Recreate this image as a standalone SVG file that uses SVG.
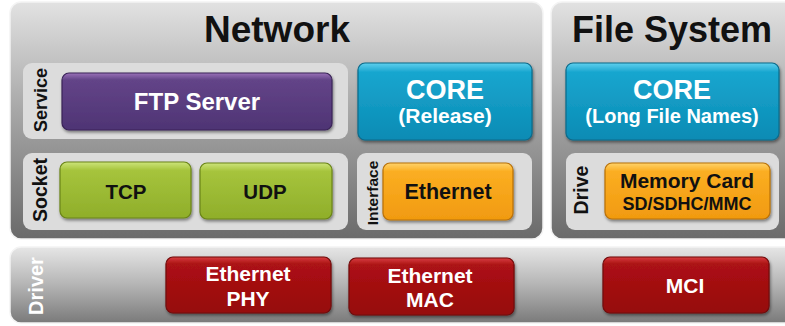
<svg xmlns="http://www.w3.org/2000/svg" width="785" height="326" viewBox="0 0 785 326">
<defs>
<linearGradient id="panel" x1="0" y1="0" x2="0" y2="1">
<stop offset="0" stop-color="#e2e2e2"/><stop offset="0.45" stop-color="#a8a8a8"/><stop offset="1" stop-color="#6a6a6a"/>
</linearGradient>
<linearGradient id="drv" x1="0" y1="0" x2="0" y2="1">
<stop offset="0" stop-color="#e6e6e6"/><stop offset="0.5" stop-color="#b4b4b4"/><stop offset="1" stop-color="#7a7a7a"/>
</linearGradient>
<linearGradient id="purple" x1="0" y1="0" x2="0" y2="1">
<stop offset="0" stop-color="#9a72b8"/><stop offset="0.12" stop-color="#634488"/><stop offset="1" stop-color="#4e3474"/>
</linearGradient>
<linearGradient id="cyan" x1="0" y1="0" x2="0" y2="1">
<stop offset="0" stop-color="#5fd0ee"/><stop offset="0.12" stop-color="#19a6cf"/><stop offset="1" stop-color="#0a8bb4"/>
</linearGradient>
<linearGradient id="green" x1="0" y1="0" x2="0" y2="1">
<stop offset="0" stop-color="#cde47a"/><stop offset="0.15" stop-color="#a6c43c"/><stop offset="1" stop-color="#8fae2a"/>
</linearGradient>
<linearGradient id="orange" x1="0" y1="0" x2="0" y2="1">
<stop offset="0" stop-color="#ffd36a"/><stop offset="0.15" stop-color="#fbae22"/><stop offset="1" stop-color="#f19a10"/>
</linearGradient>
<linearGradient id="red" x1="0" y1="0" x2="0" y2="1">
<stop offset="0" stop-color="#d84040"/><stop offset="0.12" stop-color="#ac1214"/><stop offset="1" stop-color="#960a0c"/>
</linearGradient>
<filter id="sh" x="-10%" y="-10%" width="120%" height="130%">
<feDropShadow dx="1" dy="2" stdDeviation="1.5" flood-color="#000" flood-opacity="0.45"/>
</filter>
</defs>
<style>
.panel{fill:url(#panel);stroke:#f4f4f4;stroke-width:1.5}
.inner{fill:#dcdcdc}
.btn{stroke-width:1.2;filter:url(#sh)}
.p{fill:url(#purple);stroke:#3a2458}
.c{fill:url(#cyan);stroke:#0a6a8a}
.g{fill:url(#green);stroke:#6a8418}
.o{fill:url(#orange);stroke:#b87008}
.r{fill:url(#red);stroke:#700808}
text{font-family:"Liberation Sans",Arial,sans-serif;font-weight:bold;text-anchor:middle}
.w{fill:#fff}
.k{fill:#111}
.title{font-size:37px;fill:#111}
</style>
<g id="network">
<rect class="panel" x="10" y="2" width="533" height="237" rx="11"/>
<text class="title" x="277" y="42">Network</text>
</g>
<g id="filesystem">
<rect class="panel" x="551" y="2" width="245" height="237" rx="11"/>
<text class="title" x="672" y="42" style="font-size:36px">File System</text>
</g>
<g id="driver">
<rect x="10" y="247" width="786" height="76" rx="11" fill="url(#drv)" stroke="#f4f4f4" stroke-width="1.5"/>
<text class="w" font-size="20" transform="translate(43,286) rotate(-90)">Driver</text>
</g>
<g id="service">
<rect class="inner" x="23" y="63" width="325" height="76" rx="9"/>
<text class="k" font-size="18" transform="translate(47,100) rotate(-90)">Service</text>
</g>
<g id="ftp-server">
<rect class="btn p" x="62" y="73" width="270" height="57" rx="7"/>
<text class="w" font-size="24" x="197" y="110">FTP Server</text>
</g>
<g id="core-release">
<rect class="btn c" x="358" y="63" width="174" height="77" rx="7"/>
<text class="w" font-size="27" x="445" y="99">CORE</text>
<text class="w" font-size="21" x="445" y="123">(Release)</text>
</g>
<g id="socket">
<rect class="inner" x="23" y="153" width="325" height="77" rx="9"/>
<text class="k" font-size="19.5" transform="translate(47,190) rotate(-90)">Socket</text>
</g>
<g id="tcp">
<rect class="btn g" x="60" y="162" width="131" height="56" rx="7"/>
<text class="k" font-size="20.5" x="126" y="199">TCP</text>
</g>
<g id="udp">
<rect class="btn g" x="200" y="163" width="132" height="56" rx="7"/>
<text class="k" font-size="20.5" x="265" y="199">UDP</text>
</g>
<g id="interface">
<rect class="inner" x="357" y="153" width="175" height="77" rx="9"/>
<text class="k" font-size="15.5" transform="translate(378,193) rotate(-90)">Interface</text>
</g>
<g id="ethernet">
<rect class="btn o" x="383" y="163" width="130" height="57" rx="7"/>
<text class="k" font-size="21.5" x="448" y="199">Ethernet</text>
</g>
<g id="core-lfn">
<rect class="btn c" x="566" y="63" width="213" height="77" rx="7"/>
<text class="w" font-size="27" x="672" y="99">CORE</text>
<text class="w" font-size="20" x="672" y="123">(Long File Names)</text>
</g>
<g id="drive">
<rect class="inner" x="566" y="153" width="213" height="77" rx="9"/>
<text class="k" font-size="19.5" transform="translate(588,190) rotate(-90)">Drive</text>
</g>
<g id="memory-card">
<rect class="btn o" x="605" y="163" width="165" height="56" rx="7"/>
<text class="k" font-size="21" x="687" y="188">Memory Card</text>
<text class="k" font-size="18" x="687" y="210">SD/SDHC/MMC</text>
</g>
<g id="eth-phy">
<rect class="btn r" x="166" y="257" width="165" height="56" rx="7"/>
<text class="w" font-size="21" x="248" y="281">Ethernet</text>
<text class="w" font-size="21" x="248" y="306">PHY</text>
</g>
<g id="eth-mac">
<rect class="btn r" x="349" y="258" width="165" height="57" rx="7"/>
<text class="w" font-size="21" x="430" y="283">Ethernet</text>
<text class="w" font-size="21" x="430" y="307">MAC</text>
</g>
<g id="mci">
<rect class="btn r" x="603" y="257" width="166" height="56" rx="7"/>
<text class="w" font-size="21" x="685" y="293">MCI</text>
</g>
<g id="connectors"/>
</svg>
